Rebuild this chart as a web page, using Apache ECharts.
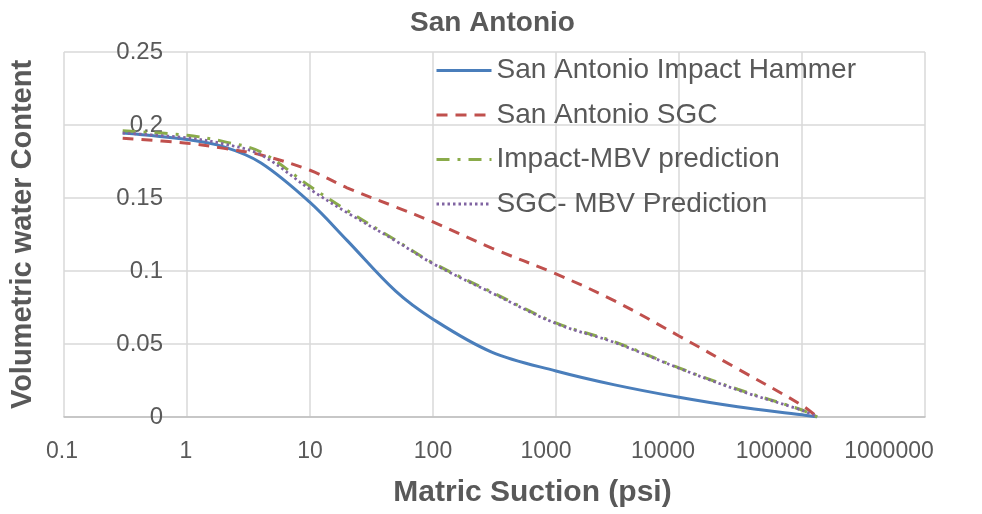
<!DOCTYPE html>
<html>
<head>
<meta charset="utf-8">
<script src="https://cdn.jsdelivr.net/npm/echarts@6/dist/echarts.min.js"></script>
<style>html,body{margin:0;padding:0;background:#fff}#c{width:982px;height:514px}</style>
</head>
<body>
<div id="c"></div>
<script>
const suction = [0.3, 1, 2, 4, 10, 20, 50, 100, 300, 1000, 3000, 10000, 30000, 100000, 133000];
const impactHammer = [0.1945, 0.190, 0.185, 0.174, 0.147, 0.121, 0.086, 0.067, 0.0445, 0.0315, 0.022, 0.0135, 0.007, 0.0015, 0];
const sgc = [0.191, 0.1875, 0.184, 0.1795, 0.169, 0.157, 0.1438, 0.1336, 0.1157, 0.098, 0.0795, 0.0555, 0.033, 0.008, 0];
const impactMBV = [0.196, 0.193, 0.1886, 0.1815, 0.158, 0.1415, 0.121, 0.1055, 0.0856, 0.0644, 0.0515, 0.0336, 0.019, 0.0048, 0];
const sgcMBV = [0.1945, 0.1912, 0.187, 0.1795, 0.156, 0.140, 0.1205, 0.105, 0.085, 0.064, 0.051, 0.0334, 0.0185, 0.0046, 0];
const seriesNames = ['San Antonio Impact Hammer', 'San Antonio SGC', 'Impact-MBV prediction', 'SGC- MBV Prediction'];
const xTickLabels = ['0.1', '1', '10', '100', '1000', '10000', '100000', '1000000'];
const yTickLabels = ['0', '0.05', '0.1', '0.15', '0.2', '0.25'];

const FONT = '"Liberation Sans", Arial, sans-serif';
const TXT = '#595959';
const pair = (ys) => suction.map((x, i) => [x, ys[i]]);
const xShift = [-2, -1, 0, 0, -10, -16, -28, -36];
const rich = {};
xShift.forEach((s, i) => {
  rich['l' + i] = { fontSize: 23, color: TXT, fontFamily: FONT,
    padding: s < 0 ? [0, -2 * s, 0, 0] : [0, 0, 0, 2 * s] };
});

const chart = echarts.init(document.getElementById('c'), null, { renderer: 'canvas' });
chart.setOption({
  animation: false,
  backgroundColor: '#fff',
  title: {
    text: 'San Antonio', left: 410, top: 9, padding: 0,
    textStyle: { fontFamily: FONT, fontSize: 28, fontWeight: 'bold', color: TXT }
  },
  grid: { left: 61, right: 57, top: 52, bottom: 97, containLabel: false },
  legend: {
    orient: 'vertical', left: 435, top: 55, padding: 0, itemWidth: 55, itemHeight: 14, itemGap: 13.5,
    textStyle: { fontFamily: FONT, fontSize: 28, color: TXT, lineHeight: 31 },
    itemStyle: { opacity: 0 },
    lineStyle: { width: 3 },
    data: seriesNames
  },
  xAxis: {
    type: 'log', logBase: 10, min: 0.1, max: 1000000,
    name: 'Matric Suction (psi)', nameLocation: 'middle', nameGap: 61,
    nameTextStyle: { fontFamily: FONT, fontSize: 30, fontWeight: 'bold', color: TXT, padding: [0, 0, 0, 76] },
    axisLine: { lineStyle: { color: '#BFBFBF', width: 1.5 } },
    axisTick: { show: false },
    splitLine: { show: true, lineStyle: { color: '#D9D9D9', width: 1.5 } },
    minorSplitLine: { show: false },
    axisLabel: {
      margin: 23, color: TXT, fontFamily: FONT, fontSize: 23,
      formatter: (v) => {
        const i = Math.round(Math.log10(v)) + 1;
        return '{l' + i + '|' + xTickLabels[i] + '}';
      },
      rich: rich
    }
  },
  yAxis: {
    type: 'value', min: 0, max: 0.25, interval: 0.05,
    name: 'Volumetric water Content', nameLocation: 'middle', nameGap: 27, nameRotate: 90,
    nameTextStyle: { fontFamily: FONT, fontSize: 29, fontWeight: 'bold', color: TXT },
    axisLine: { show: false },
    axisTick: { show: false },
    splitLine: { show: true, lineStyle: { color: '#D9D9D9', width: 1.5 } },
    axisLabel: {
      margin: -99, color: TXT, fontFamily: FONT, fontSize: 24,
      formatter: (v) => yTickLabels[Math.round(v / 0.05)]
    }
  },
  series: [
    { name: seriesNames[0], type: 'line', data: pair(impactHammer), smooth: 0.35, showSymbol: false, symbol: 'none',
      lineStyle: { color: '#4A7EBB', width: 3 }, itemStyle: { color: '#4A7EBB' } },
    { name: seriesNames[1], type: 'line', data: pair(sgc), smooth: 0.35, showSymbol: false, symbol: 'none',
      lineStyle: { color: '#C0504D', width: 3, type: [11, 8] }, itemStyle: { color: '#C0504D' } },
    { name: seriesNames[2], type: 'line', data: pair(impactMBV), smooth: 0.35, showSymbol: false, symbol: 'none',
      lineStyle: { color: '#8AAB4A', width: 3, type: [13, 8, 3, 8] }, itemStyle: { color: '#8AAB4A' } },
    { name: seriesNames[3], type: 'line', data: pair(sgcMBV), smooth: 0.35, showSymbol: false, symbol: 'none',
      lineStyle: { color: '#8064A2', width: 2.75, type: [2.5, 3] }, itemStyle: { color: '#8064A2' } }
  ]
});
</script>
</body>
</html>
